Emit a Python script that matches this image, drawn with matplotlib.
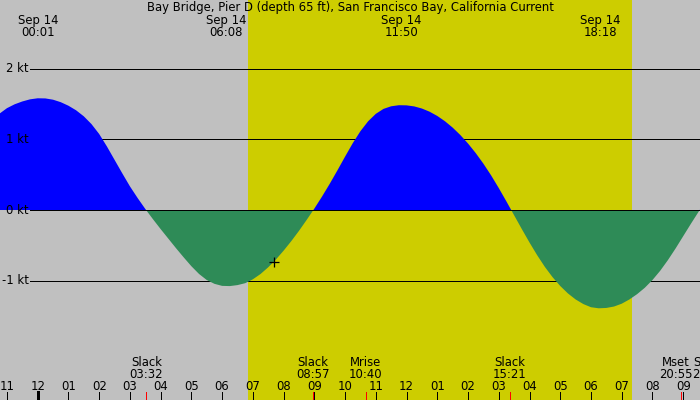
import matplotlib
matplotlib.use('Agg')
import matplotlib.pyplot as plt
import matplotlib.transforms as mtransforms

# current speed (kt) at hours after midnight, Sep 14
hours = [-1.25, -1.0, -0.75, -0.5, -0.25, 0.0, 0.25, 0.5, 0.75, 1.0,
         1.25, 1.5, 1.75, 2.0, 2.25, 2.5, 2.75, 3.0, 3.25, 3.5,
         3.75, 4.0, 4.25, 4.5, 4.75, 5.0, 5.25, 5.5, 5.75, 6.0,
         6.25, 6.5, 6.75, 7.0, 7.25, 7.5, 7.75, 8.0, 8.25, 8.5,
         8.75, 9.0, 9.25, 9.5, 9.75, 10.0, 10.25, 10.5, 10.75, 11.0,
         11.25, 11.5, 11.75, 12.0, 12.25, 12.5, 12.75, 13.0, 13.25, 13.5,
         13.75, 14.0, 14.25, 14.5, 14.75, 15.0, 15.25, 15.5, 15.75, 16.0,
         16.25, 16.5, 16.75, 17.0, 17.25, 17.5, 17.75, 18.0, 18.25, 18.5,
         18.75, 19.0, 19.25, 19.5, 19.75, 20.0, 20.25, 20.5, 20.75, 21.0,
         21.25, 21.5, 21.75]
speed = [1.36, 1.44, 1.495, 1.535, 1.565, 1.58, 1.578, 1.56, 1.525, 1.475,
         1.41, 1.325, 1.215, 1.075, 0.90, 0.71, 0.52, 0.335, 0.17, 0.015,
         -0.13, -0.27, -0.405, -0.54, -0.67, -0.795, -0.905, -0.99, -1.044, -1.073,
         -1.076, -1.062, -1.035, -0.98, -0.905, -0.81, -0.70, -0.575, -0.44, -0.295,
         -0.14, 0.02, 0.19, 0.37, 0.56, 0.755, 0.945, 1.115, 1.255, 1.36,
         1.43, 1.467, 1.482, 1.48, 1.465, 1.435, 1.39, 1.33, 1.255, 1.165,
         1.06, 0.94, 0.805, 0.655, 0.49, 0.31, 0.12, -0.075, -0.27, -0.46,
         -0.64, -0.805, -0.95, -1.075, -1.18, -1.265, -1.33, -1.375, -1.39, -1.385,
         -1.365, -1.325, -1.265, -1.19, -1.10, -0.99, -0.86, -0.71, -0.545, -0.37,
         -0.195, -0.025, 0.14]

# max / min current times (top labels)
peak_hours = [0.017, 6.133, 11.833, 18.3]
peak_labels = ['00:01', '06:08', '11:50', '18:18']

# slack and moon events (bottom labels)
event_names = ['Slack', 'Slack', 'Mrise', 'Slack', 'Mset', 'Slack']
event_hours = [3.533, 8.95, 10.667, 15.35, 20.917, 21.567]
event_times = ['03:32', '08:57', '10:40', '15:21', '20:55', '21:34']

sunrise, sunset = 6.84, 19.33
now_hour, now_speed = 7.70, -0.74
kt_levels = [2, 1, 0, -1]
hour_ticks = list(range(-1, 22))

title = 'Bay Bridge, Pier D (depth 65 ft), San Francisco Bay, California Current'

plt.rcParams['font.family'] = 'DejaVu Sans'
plt.rcParams['font.size'] = 8.4

W, H = 700, 400
fig = plt.figure(figsize=(7, 4), dpi=100)
fig.patch.set_facecolor('#c0c0c0')
ax = fig.add_axes([0, 0, 1, 1])
ax.axis('off')
ax.set_xlim(-1.226, 21.546)
ax.set_ylim(-2.687, 2.970)

# pixel-from-top transform and the blended ones
px = mtransforms.Affine2D().scale(1 / W, -1 / H).translate(0, 1) + fig.transFigure
xt = mtransforms.blended_transform_factory(ax.transData, px)
yt = mtransforms.blended_transform_factory(px, ax.transData)

# daylight
ax.axvspan(sunrise, sunset, color='#cdcd00', lw=0, zorder=0)

# grid lines
for k in kt_levels:
    if k != 0:
        ax.plot([30, W], [k, k], color='black', lw=0.72, transform=yt, zorder=1,
                antialiased=False)

# flood / ebb fill
ax.fill_between(hours, speed, 0, where=[s >= 0 for s in speed], interpolate=True,
                color='#0000ff', lw=0, zorder=2)
ax.fill_between(hours, speed, 0, where=[s <= 0 for s in speed], interpolate=True,
                color='#2e8b57', lw=0, zorder=2)
ax.plot([30, W], [0, 0], color='black', lw=0.72, transform=yt, zorder=3,
        antialiased=False)

# y labels
for k in kt_levels:
    ax.text(28.5, k, f'{k} kt', transform=yt, ha='right', va='center', zorder=4)

# current position marker
ax.plot(now_hour, now_speed, marker='+', color='black', ms=7, mew=0.9, zorder=5)

# title and top labels
ax.text(350, 11.5, title, transform=px, ha='center', va='baseline')
for h, lab in zip(peak_hours, peak_labels):
    ax.text(h, 24, 'Sep 14', transform=xt, ha='center', va='baseline')
    ax.text(h, 36, lab, transform=xt, ha='center', va='baseline')

# hour ticks
for h in hour_ticks:
    lw = 2.16 if h == 0 else 0.72
    ax.plot([h, h], [392, 400], color='black', lw=lw, transform=xt,
            antialiased=False, zorder=4)
    ax.text(h, 390, f'{(h % 12) or 12:02d}', transform=xt, ha='center',
            va='baseline')

# event ticks and labels (the last two labels are pushed apart)
nudge = [0, 0, 0, 0, -5, 8]
for name, h, t, dx in zip(event_names, event_hours, event_times, nudge):
    ax.plot([h, h], [392, 400], color='red', lw=0.72, transform=xt,
            antialiased=False, zorder=5)
    tr = mtransforms.offset_copy(xt, fig=fig, x=dx, y=0, units='dots')
    ax.text(h, 366.5, name, transform=tr, ha='center', va='baseline')
    ax.text(h, 378, t, transform=tr, ha='center', va='baseline')

fig.savefig('out.png', dpi=100, facecolor=fig.get_facecolor())
